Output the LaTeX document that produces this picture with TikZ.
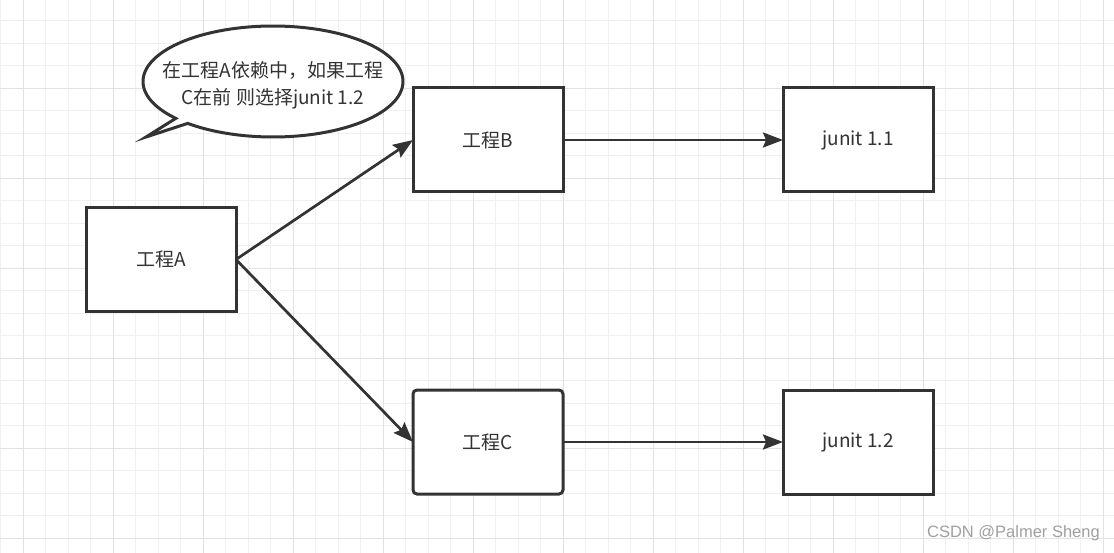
\documentclass[tikz,border=0pt]{standalone}
\usepackage{fontspec}
\setmainfont{Noto Sans CJK SC}
\newfontfamily\wmfont{Liberation Sans}
\usetikzlibrary{arrows.meta}
\definecolor{ink}{HTML}{333333}
\definecolor{gridminor}{HTML}{F0F0F0}
\definecolor{gridmajor}{HTML}{E2E2E2}
\definecolor{wmcol}{HTML}{A0A0A0}
\begin{document}
\begin{tikzpicture}[x=1pt,y=-1pt,
  box/.style={draw=ink, line width=3pt, fill=white, minimum width=150pt, minimum height=104pt,
    inner sep=0pt, outer sep=0pt, text=ink, font=\fontsize{19}{23}\selectfont},
  link/.style={draw=ink, line width=2.7pt, -{Stealth[length=20pt,width=15pt,inset=3pt]}},
  gminor/.style={draw=gridminor, line width=1pt},
  gmajor/.style={draw=gridmajor, line width=1pt},
]
\fill[white] (0,0) rectangle (1114,553);
\useasboundingbox (0,0) rectangle (1114,553);
% grid
\foreach \k in {0,...,49} \draw[gminor] ({0.8+22.5*\k},0) -- ({0.8+22.5*\k},553);
\foreach \k in {0,...,24} \draw[gminor] (0,{-1.7+22.5*\k}) -- (1114,{-1.7+22.5*\k});
\foreach \k in {0,...,12} \draw[gmajor] ({23.3+90*\k},0) -- ({23.3+90*\k},553);
\foreach \k in {0,...,5} \draw[gmajor] (0,{88.3+90*\k}) -- (1114,{88.3+90*\k});
% callout
\draw[draw=ink, line width=3pt, fill=white, line join=miter]
  plot[domain=0:352.6, samples=160, variable=\t] ({273+130*cos(131-\t)},{81.5+55.5*sin(131-\t)})
  -- (146,137) -- cycle;
\node[text=ink, align=center, font=\fontsize{19}{27}\selectfont] (note) at (273,85)
  {在工程A依赖中，如果工程\\C在前 则选择junit 1.2};
% boxes
\node[box] (A) at (161,259.5) {工程A};
\node[box] (B) at (488,140) {工程B};
\node[box, rounded corners=4pt] (C) at (488,442) {工程C};
\node[box] (J1) at (858,140) {junit 1.1};
\node[box] (J2) at (858,442) {junit 1.2};
% connectors
\draw[link] (A.east) -- (B.west);
\draw[link] (A.east) -- (C.west);
\draw[link] (B.east) -- (J1.west);
\draw[link] (C.east) -- (J2.west);
% watermark
\node[text=wmcol, font=\wmfont\fontsize{16.5}{20}\selectfont, anchor=east, inner sep=0pt] (wm) at (1100,533) {CSDN @Palmer Sheng};
\end{tikzpicture}
\end{document}
